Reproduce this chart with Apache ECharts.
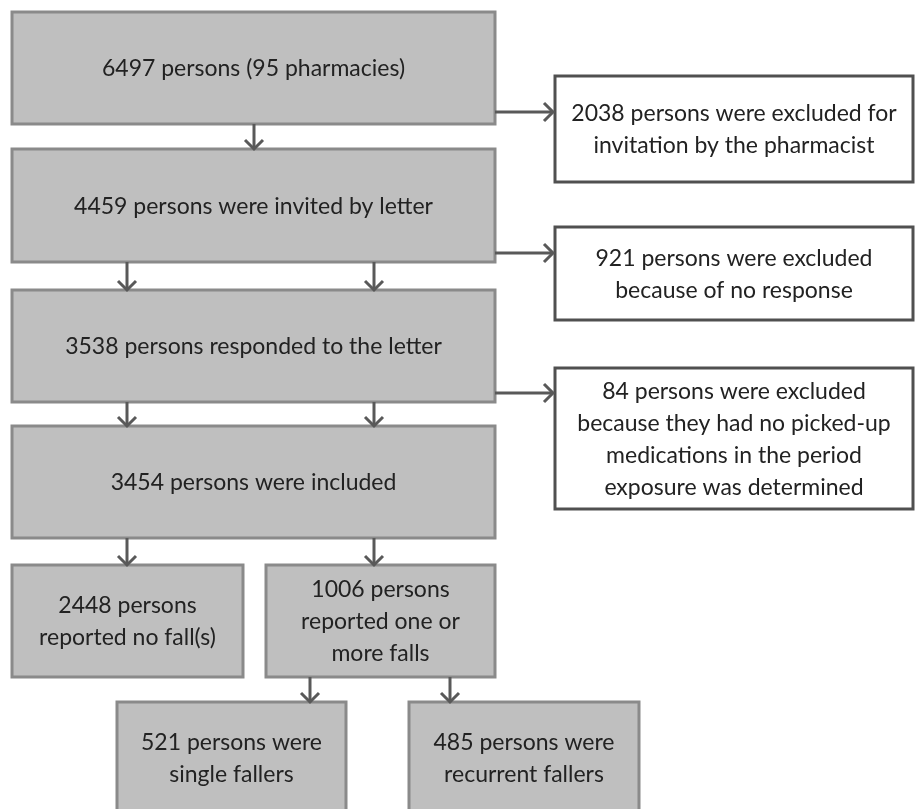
<!DOCTYPE html>
<html>
<head>
<meta charset="utf-8">
<style>html,body{margin:0;padding:0;background:#fff}#c{width:916px;height:809px}</style>
<script src="https://cdn.jsdelivr.net/npm/echarts@6/dist/echarts.min.js"></script>
</head>
<body>
<div id="c"></div>
<script>
// ---- content (texts) ----
var boxTexts = [
  '6497 persons (95 pharmacies)',
  '4459 persons were invited by letter',
  '3538 persons responded to the letter',
  '3454 persons were included',
  '2448 persons\nreported no fall(s)',
  '1006 persons\nreported one or\nmore falls',
  '521 persons were\nsingle fallers',
  '485 persons were\nrecurrent fallers',
  '2038 persons were excluded for\ninvitation by the pharmacist',
  '921 persons were excluded\nbecause of no response',
  '84 persons were excluded\nbecause they had no picked-up\nmedications in the period\nexposure was determined'
];
var boxKinds = ['main','main','main','main','main','main','main','main','excl','excl','excl'];

// ---- layout (diagram coordinates, px-like units on hidden axes) ----
var boxLayout = [
  [12, 12, 495, 124],
  [12, 149, 495, 262],
  [12, 290, 495, 402],
  [12, 426, 495, 538],
  [12, 565, 243, 677],
  [266, 565, 495, 677],
  [117, 702, 346, 814],
  [409, 702, 639, 814],
  [555, 76, 913, 182],
  [555, 227, 913, 320],
  [555, 368, 913, 509]
];
var arrowLayout = [
  [254, 124, 254, 149],
  [127, 262, 127, 290], [374, 262, 374, 290],
  [127, 402, 127, 426], [374, 402, 374, 426],
  [127, 538, 127, 565], [374, 538, 374, 565],
  [310, 677, 310, 702], [450, 677, 450, 702],
  [495, 112, 553, 112],
  [495, 253, 553, 253],
  [495, 393, 553, 393]
];

var styles = {
  main: {fill: '#bfbfbf', stroke: '#8a8a8a', lineWidth: 3},
  excl: {fill: '#ffffff', stroke: '#505050', lineWidth: 3}
};

var boxData = boxLayout.map(function (b, i) { return b.concat([i]); });

var chart = echarts.init(document.getElementById('c'));
chart.setOption({
  animation: false,
  grid: {left: 0, right: 0, top: 0, bottom: 0},
  xAxis: {type: 'value', min: 0, max: 916, show: false},
  yAxis: {type: 'value', min: 0, max: 809, inverse: true, show: false},
  series: [
    {
      type: 'custom',
      coordinateSystem: 'cartesian2d',
      clip: false,
      data: boxData,
      renderItem: function (params, api) {
        var p0 = api.coord([api.value(0), api.value(1)]);
        var p1 = api.coord([api.value(2), api.value(3)]);
        var idx = api.value(4);
        var st = styles[boxKinds[idx]];
        return {
          type: 'group',
          children: [
            {
              type: 'rect',
              shape: {x: p0[0], y: p0[1], width: p1[0] - p0[0], height: p1[1] - p0[1]},
              style: {fill: st.fill, stroke: st.stroke, lineWidth: st.lineWidth}
            },
            {
              type: 'text',
              style: {
                text: boxTexts[idx],
                x: (p0[0] + p1[0]) / 2,
                y: (p0[1] + p1[1]) / 2 + 1,
                align: 'center',
                verticalAlign: 'middle',
                font: '23px Lato',
                lineHeight: 32,
                fill: '#222222'
              }
            }
          ]
        };
      }
    },
    {
      type: 'custom',
      coordinateSystem: 'cartesian2d',
      clip: false,
      data: arrowLayout,
      renderItem: function (params, api) {
        var a = api.coord([api.value(0), api.value(1)]);
        var b = api.coord([api.value(2), api.value(3)]);
        var dx = b[0] - a[0], dy = b[1] - a[1];
        var len = Math.sqrt(dx * dx + dy * dy);
        var ux = dx / len, uy = dy / len;
        var px = -uy, py = ux;
        var h = 9;
        var s = {stroke: '#595959', lineWidth: 3, fill: null};
        return {
          type: 'group',
          children: [
            {type: 'line', shape: {x1: a[0], y1: a[1], x2: b[0], y2: b[1]}, style: s},
            {type: 'polyline', shape: {points: [
              [b[0] - ux * h + px * h, b[1] - uy * h + py * h],
              [b[0], b[1]],
              [b[0] - ux * h - px * h, b[1] - uy * h - py * h]
            ]}, style: s}
          ]
        };
      }
    }
  ]
});
</script>
</body>
</html>
